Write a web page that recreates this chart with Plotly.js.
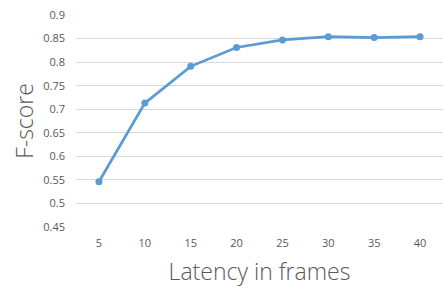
<!DOCTYPE html>
<html>
<head>
<meta charset="utf-8">
<script src="https://cdn.plot.ly/plotly-3.0.1.min.js"></script>
<style>html,body{margin:0;padding:0;background:#fff;}#chart{width:443px;height:290px;}</style>
</head>
<body>
<div id="chart"></div>
<script>
var latency = ['5', '10', '15', '20', '25', '30', '35', '40'];
var fscore = [0.546, 0.713, 0.791, 0.831, 0.847, 0.854, 0.852, 0.854];
var yTicks = [0.45, 0.5, 0.55, 0.6, 0.65, 0.7, 0.75, 0.8, 0.85, 0.9];
var yTickText = ['0.45', '0.5', '0.55', '0.6', '0.65', '0.7', '0.75', '0.8', '0.85', '0.9'];

var trace = {
  x: latency,
  y: fscore,
  type: 'scatter',
  mode: 'lines+markers',
  line: {color: '#5B9BD5', width: 2.75},
  marker: {color: '#5B9BD5', size: 7},
  hoverinfo: 'none'
};

var layout = {
  width: 443,
  height: 290,
  margin: {l: 76, r: 0, t: 15, b: 63},
  paper_bgcolor: '#ffffff',
  plot_bgcolor: '#ffffff',
  showlegend: false,
  font: {family: 'Open Sans, sans-serif', color: '#595959', size: 11},
  xaxis: {
    type: 'category',
    range: [-0.5, 7.5],
    showgrid: false,
    zeroline: false,
    showline: false,
    ticks: '',
    ticklabelstandoff: 8,
    tickfont: {size: 11, color: '#595959'},
    title: {text: 'Latency in frames', font: {size: 23, color: '#595959', weight: 300}, standoff: 14}
  },
  yaxis: {
    range: [0.45, 0.9],
    tickvals: yTicks,
    ticktext: yTickText,
    showgrid: true,
    gridcolor: '#d9d9d9',
    gridwidth: 1,
    zeroline: false,
    showline: false,
    ticks: '',
    ticklabelstandoff: 10,
    tickfont: {size: 11, color: '#595959'},
    title: {text: 'F-score', font: {size: 23, color: '#595959', weight: 300}, standoff: 3}
  }
};

Plotly.newPlot('chart', [trace], layout, {staticPlot: true, displayModeBar: false});
</script>
</body>
</html>
